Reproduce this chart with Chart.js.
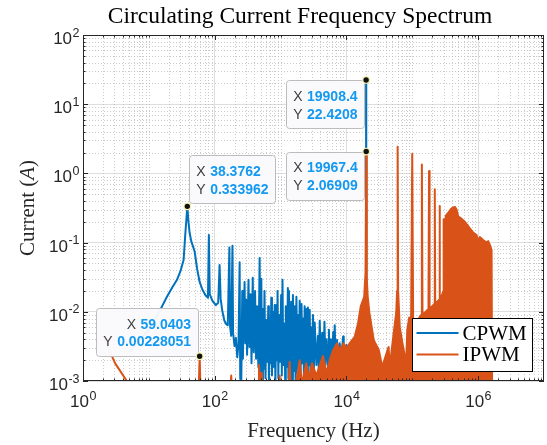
<!DOCTYPE html>
<html lang="en">
<head>
<meta charset="UTF-8" />
<title>Circulating Current Frequency Spectrum</title>
<script src="https://cdn.jsdelivr.net/npm/chart.js"></script>
<style>
  html, body { margin: 0; padding: 0; background: #fff; }
</style>
</head>
<body>
<canvas id="chart" width="547" height="445"></canvas>

<script>
/* ---- texts / ticks ---- */
const titleText = 'Circulating Current Frequency Spectrum';
const xTitle = 'Frequency (Hz)';
const yTitleParts = ['Current (', 'A', ')'];   // middle part in italics
const xTicks = [1, 1e2, 1e4, 1e6];
const yTicks = [1e-3, 1e-2, 1e-1, 1, 10, 100];
const xRange = [1, 1e7];
const yRange = [1e-3, 1e2];
const seriesNames = ['CPWM', 'IPWM'];

/* ---- spectra: [frequency Hz, current A] ---- */
const cpwmPoints = [
  [5,0.0026],[10,0.0055],[14,0.0095],[18.8,0.0165],[23,0.023],[26.6,0.0288],[30,0.038],
  [33.7,0.056],[35.7,0.13],[37.2,0.22],[38.3762,0.333962],[39.6,0.22],[41.5,0.14],[44,0.105],
  [49.5,0.075],[54,0.042],[59,0.027],[65,0.021],[72,0.0175],[79,0.016],[81.5,0.129],[84,0.018],
  [92,0.0145],[104,0.0125],[113,0.0135],[118.5,0.0475],[123,0.0155],[130,0.0105],[140,0.0075],
  [150,0.0066],[158,0.0064],[167,0.085],[171,0.0062],[178,0.0045],[186,0.09],[190,0.005],
  [200,0.0032],[210,0.0042],[220,0.0022],[230,0.0035],[239,0.052],[244,0.0011],[253,0.0009],
  [262,0.02],[268,0.0021],[284,0.027],[292,0.0035],[300,0.015],[310,0.0024],[326,0.029],
  [336,0.0031],[350,0.018],[362,0.0018],[378,0.031],[392,0.0026],[410,0.02],[425,0.0021],
  [440,0.012],[460,0.0016],[481,0.06],[495,0.0012],[510,0.03],[525,0.0009],[540,0.011],
  [555,0.0015],[570,0.02],[590,0.0011],[610,0.0076],[630,0.0019],[650,0.012],[665,0.0009],
  [682,0.0082],[700,0.0018],[723,0.016],[740,0.0012],[760,0.01],[790,0.0016],[813,0.0125],
  [835,0.0009],[860,0.0125],[880,0.002],[900,0.02],[925,0.0011],[950,0.009],[985,0.0019],
  [1020,0.0175],[1045,0.0012],[1070,0.029],[1100,0.0017],[1150,0.0068],[1175,0.0009],
  [1200,0.012],[1245,0.0016],[1290,0.022],[1315,0.0011],[1340,0.02],[1395,0.0015],
  [1450,0.014],[1495,0.0009],[1540,0.0175],[1590,0.0014],[1640,0.012],[1690,0.001],
  [1740,0.0165],[1800,0.0013],[1850,0.009],[1900,0.0016],[1950,0.0145],[2010,0.0011],
  [2080,0.013],[2140,0.0018],[2200,0.008],[2260,0.0012],[2320,0.012],[2390,0.0015],
  [2450,0.011],[2530,0.0013],[2600,0.0115],[2690,0.0017],[2770,0.0106],[2840,0.0012],
  [2900,0.006],[3000,0.0016],[3100,0.009],[3200,0.0013],[3300,0.007],[3500,0.0017],
  [3700,0.0045],[3800,0.0014],[3930,0.0074],[4100,0.0018],[4300,0.005],[4450,0.0013],
  [4640,0.0072],[4800,0.0017],[5000,0.004],[5270,0.0015],[5420,0.0055],[5570,0.0019],
  [5800,0.004],[6000,0.0016],[6300,0.0051],[6450,0.0018],[6640,0.0064],[6900,0.0017],
  [7200,0.0039],[7500,0.0019],[7900,0.0035],[8300,0.0018],[8900,0.0044],[9100,0.0019],
  [9400,0.003],[9700,0.0016],[10000,0.0033],[10500,0.0008],[19800,0.0008],
  [19908.4,22.4208],[20000,0.0008]
];

const ipwmPoints = [
  [2,0.0045],[3.08,0.0018],[4.63,0.001],[5.5,0.0007],[57,0.0007],[59.0403,0.00228051],[61,0.0007],
  [172,0.0007],[178,0.0012],[184,0.0007],[455,0.0007],[470,0.0017],[490,0.0008],[505,0.0013],
  [520,0.0007],[940,0.0007],[968,0.0012],[1000,0.0007],[1300,0.0007],[1374,0.0019],[1420,0.0008],
  [1700,0.0009],[1950,0.002],[2100,0.0009],[2450,0.0018],[2700,0.0011],[3000,0.0018],
  [3500,0.0012],[4400,0.0023],[5000,0.0013],[5570,0.002],[6300,0.0028],[7200,0.0035],
  [8000,0.0028],[9000,0.0035],[10000,0.003],[11200,0.0035],[13400,0.0044],[15000,0.0068],
  [16500,0.012],[18600,0.0165],[19500,0.037],[19967.4,2.06909],[20400,0.03],[21000,0.017],
  [22300,0.0097],[26000,0.0039],[31000,0.0028],[35000,0.0016],[40500,0.0025],[43700,0.0031],
  [45400,0.0016],[50700,0.0039],[57000,0.0097],[58800,0.02],[59900,2.43],[61000,0.02],
  [64500,0.006],[71000,0.0035],[80600,0.0018],[84000,0.0055],[90000,0.0083],[96000,0.008],
  [99800,1.91],[103000,0.008],[115000,0.0065],[125000,0.008],[136000,0.009],[139800,1.35],
  [143000,0.009],[160000,0.01],[176000,0.011],[179700,1.08],[183000,0.011],[200000,0.012],
  [216000,0.013],[219600,0.59],[223000,0.013],[240000,0.014],[256000,0.015],[259600,0.338],
  [263000,0.016],[280000,0.017],[296000,0.02],[299500,0.217],[305000,0.15],[323000,0.245],
  [350000,0.268],[381000,0.3],[408000,0.32],[443000,0.328],[470000,0.3],[497000,0.24],
  [541000,0.227],[592000,0.21],[628000,0.2],[681000,0.18],[748000,0.16],[840000,0.14],
  [946000,0.129],[1000000,0.103],[1060000,0.12],[1190000,0.109],[1340000,0.1],[1420000,0.105],
  [1510000,0.092],[1600000,0.078],[1630000,0.0008],[10000000,0.0008]
];

/* ---- data tips (x, y as shown) ---- */
const tipX = ['38.3762', '19908.4', '19967.4', '59.0403'];
const tipY = ['0.333962', '22.4208', '2.06909', '0.00228051'];

/* ---- styling ---- */
const BLUE = '#0072BD', ORANGE = '#D95319', AXIS = '#262626';
const SERIF = '"Liberation Serif", "Times New Roman", serif';
const SANS = '"Liberation Sans", Arial, sans-serif';
const tipPlace = ['ne', 'sw', 'sw', 'nw'];

const expOf = v => String(Math.round(Math.log10(v)));

// "10" with a raised exponent, like MATLAB tick labels
function drawPow(ctx, v, x, y, align) {
  const base = '10', ex = expOf(v);
  ctx.font = '17px ' + SANS;
  const wb = ctx.measureText(base).width;
  ctx.font = '12.5px ' + SANS;
  const we = ctx.measureText(ex).width;
  const w = wb + we;
  const x0 = align === 'right' ? x - w : x - w / 2;
  ctx.textAlign = 'left';
  ctx.textBaseline = 'alphabetic';
  ctx.fillStyle = AXIS;
  ctx.font = '17px ' + SANS;
  ctx.fillText(base, x0, y);
  ctx.font = '12.5px ' + SANS;
  ctx.fillText(ex, x0 + wb + 0.5, y - 7.5);
}

/* grid, box, ticks, data tips, legend, titles — MATLAB look */
const matlabLook = {
  id: 'matlabLook',
  beforeDatasetsDraw(chart) {
    const {ctx, chartArea: a, scales: {x, y}} = chart;
    ctx.save();
    ctx.strokeStyle = '#bdbdbd';
    ctx.lineWidth = 0.8;
    ctx.setLineDash([1, 2]);
    ctx.beginPath();
    for (let e = 0; e < 7; e++) {
      for (let m = 1; m < 10; m++) {
        const v = m * Math.pow(10, e);
        if (xTicks.includes(v)) continue;
        const px = Math.round(x.getPixelForValue(v)) + 0.5;
        ctx.moveTo(px, a.top); ctx.lineTo(px, a.bottom);
      }
    }
    for (let e = -3; e < 2; e++) {
      for (let m = 2; m < 10; m++) {
        const py = Math.round(y.getPixelForValue(m * Math.pow(10, e))) + 0.5;
        ctx.moveTo(a.left, py); ctx.lineTo(a.right, py);
      }
    }
    ctx.stroke();
    ctx.restore();
  },
  afterDatasetsDraw(chart) {
    const {ctx, chartArea: a, scales: {x, y}} = chart;
    ctx.save();

    // axes box + inward ticks
    ctx.strokeStyle = AXIS;
    ctx.lineWidth = 1;
    ctx.beginPath();
    for (let e = 0; e < 7; e++) {
      for (let m = 1; m < 10; m++) {
        const v = m * Math.pow(10, e);
        const len = xTicks.includes(v) ? 5 : 2.5;
        const px = Math.round(x.getPixelForValue(v)) + 0.5;
        ctx.moveTo(px, a.bottom); ctx.lineTo(px, a.bottom - len);
        ctx.moveTo(px, a.top); ctx.lineTo(px, a.top + len);
      }
    }
    for (let e = -3; e < 2; e++) {
      for (let m = 1; m < 10; m++) {
        const len = m === 1 ? 5 : 2.5;
        const py = Math.round(y.getPixelForValue(m * Math.pow(10, e))) + 0.5;
        ctx.moveTo(a.left, py); ctx.lineTo(a.left + len, py);
        ctx.moveTo(a.right, py); ctx.lineTo(a.right - len, py);
      }
    }
    ctx.stroke();
    ctx.strokeRect(Math.round(a.left) + 0.5, Math.round(a.top) + 0.5,
                   Math.round(a.right - a.left) - 1, Math.round(a.bottom - a.top) - 1);

    // tick labels from the scales' ticks
    x.ticks.forEach(t => drawPow(ctx, t.value, x.getPixelForValue(t.value), a.bottom + 26, 'center'));
    y.ticks.forEach(t => drawPow(ctx, t.value, a.left - 4, y.getPixelForValue(t.value) + 9, 'right'));

    // y-axis title with italic unit symbol
    const fonts = ['21px ' + SERIF, 'italic 21px ' + SERIF, '21px ' + SERIF];
    const ws = yTitleParts.map((s, k) => { ctx.font = fonts[k]; return ctx.measureText(s).width; });
    ctx.save();
    ctx.translate(28, (a.top + a.bottom) / 2);
    ctx.rotate(-Math.PI / 2);
    ctx.fillStyle = AXIS;
    ctx.textAlign = 'left';
    ctx.textBaseline = 'middle';
    let cx = -ws.reduce((s, w) => s + w, 0) / 2;
    yTitleParts.forEach((s, k) => { ctx.font = fonts[k]; ctx.fillText(s, cx, 0); cx += ws[k]; });
    ctx.restore();

    // data tips
    const labFont = '14px ' + SANS, valFont = 'bold 14px ' + SANS;
    tipX.forEach((tx, i) => {
      const px = x.getPixelForValue(Number(tx));
      const py = y.getPixelForValue(Number(tipY[i]));
      const rows = [['X', tx], ['Y', tipY[i]]];
      const widths = rows.map(r => {
        ctx.font = labFont; const w1 = ctx.measureText(r[0]).width;
        ctx.font = valFont; return w1 + 4.5 + ctx.measureText(r[1]).width;
      });
      const bw = Math.max(...widths) + 14, bh = 48;
      const side = tipPlace[i];
      const bx = side === 'ne' ? px + 2 : px - 1.5 - bw;
      const by = side === 'ne' ? py - 3 - bh : side === 'sw' ? py + 0.5 : py - bh;
      ctx.fillStyle = 'rgba(250,250,252,0.96)';
      ctx.strokeStyle = '#bcbcbc';
      ctx.lineWidth = 1;
      ctx.beginPath();
      ctx.roundRect(Math.round(bx) + 0.5, Math.round(by) + 0.5, Math.round(bw), Math.round(bh), 3);
      ctx.fill(); ctx.stroke();
      ctx.textBaseline = 'middle';
      rows.forEach((r, k) => {
        const ty = by + 16.5 + k * 17.8;
        let tx0 = side === 'ne' ? bx + 7 : bx + bw - 7 - widths[k];
        ctx.textAlign = 'left';
        ctx.font = labFont; ctx.fillStyle = '#404040';
        ctx.fillText(r[0], tx0, ty);
        tx0 += ctx.measureText(r[0]).width + 4.5;
        ctx.font = valFont; ctx.fillStyle = '#1499f0';
        ctx.fillText(r[1], tx0, ty);
      });
      // marker
      ctx.beginPath();
      ctx.arc(px, py, 3.3, 0, Math.PI * 2);
      ctx.fillStyle = '#111';
      ctx.fill();
      ctx.strokeStyle = '#f4f0b0';
      ctx.lineWidth = 1.2;
      ctx.stroke();
    });

    // legend (inside, lower right)
    const lw = 120, lh = 53;
    const lx = Math.round(a.right - 12 - lw) + 0.5, ly = Math.round(a.bottom - 10 - lh) + 0.5;
    ctx.fillStyle = '#fff';
    ctx.fillRect(lx, ly, lw, lh);
    ctx.strokeStyle = '#000';
    ctx.lineWidth = 1;
    ctx.strokeRect(lx, ly, lw, lh);
    chart.data.datasets.forEach((ds, k) => {
      const ry = ly + 14.5 + k * 21.5;
      ctx.strokeStyle = ds.borderColor;
      ctx.lineWidth = 2;
      ctx.beginPath(); ctx.moveTo(lx + 4, ry); ctx.lineTo(lx + 46, ry); ctx.stroke();
      ctx.fillStyle = '#000';
      ctx.font = '21px ' + SERIF;
      ctx.textAlign = 'left';
      ctx.textBaseline = 'middle';
      ctx.fillText(ds.label, lx + 50, ry + 1);
    });

    // title
    ctx.fillStyle = '#000';
    ctx.font = '23.5px ' + SERIF;
    ctx.textAlign = 'center';
    ctx.textBaseline = 'middle';
    ctx.fillText(titleText, 300, 17);
    ctx.restore();
  }
};

new Chart(document.getElementById('chart'), {
  type: 'line',
  data: {
    datasets: [
      {
        label: seriesNames[0],
        data: cpwmPoints.map(p => ({x: p[0], y: p[1]})),
        borderColor: BLUE,
        borderWidth: 2,
        pointRadius: 0,
        borderJoinStyle: 'round',
        fill: false,
        order: 1
      },
      {
        label: seriesNames[1],
        data: ipwmPoints.map(p => ({x: p[0], y: p[1]})),
        borderColor: ORANGE,
        backgroundColor: ORANGE,
        borderWidth: 2,
        pointRadius: 0,
        borderJoinStyle: 'round',
        fill: 'start',
        segment: {
          backgroundColor: c => c.p0.parsed.x < 900 ? 'rgba(0,0,0,0)' : ORANGE
        },
        order: 0
      }
    ]
  },
  options: {
    responsive: false,
    animation: false,
    devicePixelRatio: 1,
    layout: { padding: { top: 35, right: 3, left: 0, bottom: 0 } },
    plugins: { legend: { display: false }, tooltip: { enabled: false }, title: { display: false } },
    scales: {
      x: {
        type: 'logarithmic',
        min: xRange[0], max: xRange[1],
        afterBuildTicks: s => { s.ticks = xTicks.map(v => ({value: v})); },
        afterFit: s => { s.height = 64; },
        ticks: { display: false, autoSkip: false },
        grid: { color: '#dedede', lineWidth: 1, drawTicks: false },
        border: { display: false },
        title: { display: true, text: xTitle, font: { family: SERIF, size: 21 }, color: AXIS,
                 padding: { top: 0, bottom: 1 } }
      },
      y: {
        type: 'logarithmic',
        min: yRange[0], max: yRange[1],
        afterBuildTicks: s => { s.ticks = yTicks.map(v => ({value: v})); },
        afterFit: s => { s.width = 83; },
        ticks: { display: false, autoSkip: false },
        grid: { color: '#dedede', lineWidth: 1, drawTicks: false },
        border: { display: false },
        title: { display: false }
      }
    }
  },
  plugins: [matlabLook]
});
</script>
</body>
</html>
